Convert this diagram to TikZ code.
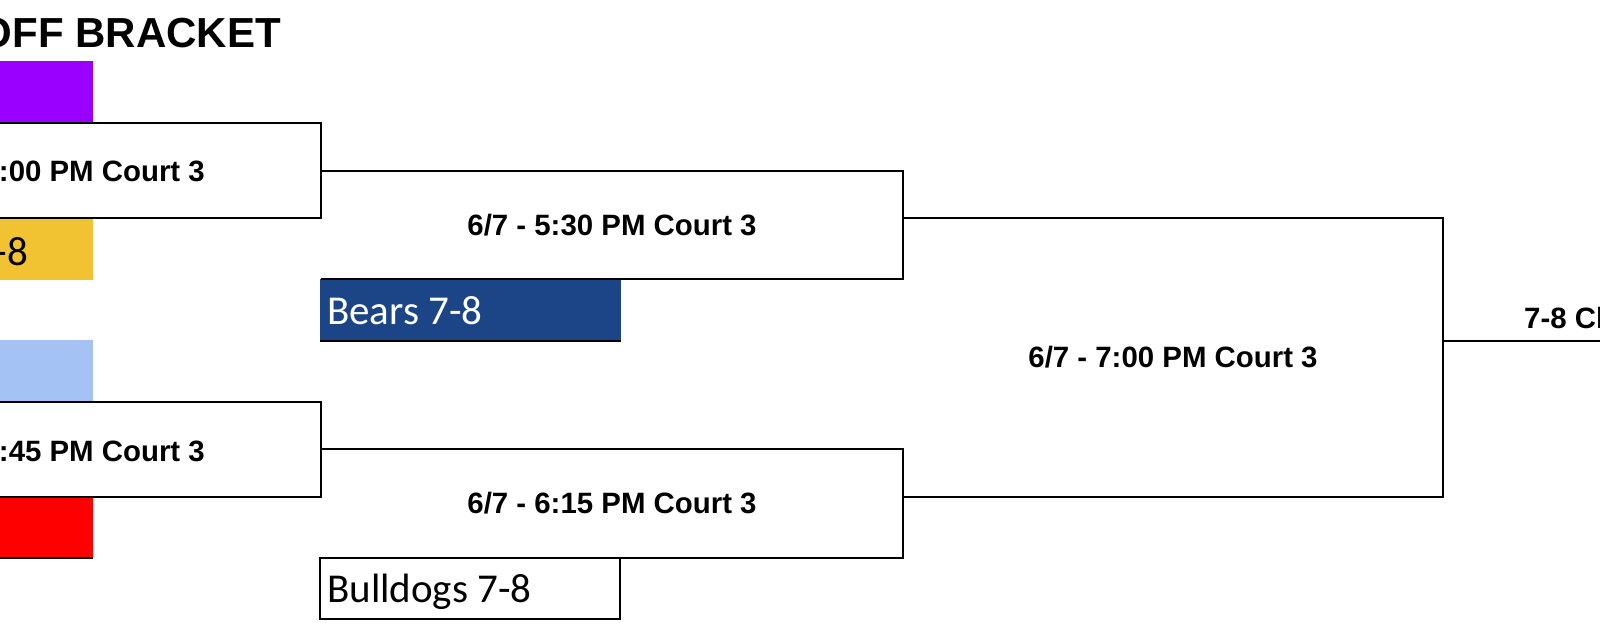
\documentclass[tikz,border=0pt]{standalone}
\usepackage{fontspec}
\setmainfont{Liberation Sans}
\newfontfamily\calib{Carlito}
\definecolor{tpurple}{HTML}{9900FF}
\definecolor{tyellow}{HTML}{F1C232}
\definecolor{tlblue}{HTML}{A4C2F4}
\definecolor{tred}{HTML}{FF0000}
\definecolor{tdblue}{HTML}{1C4587}
\begin{document}
\begin{tikzpicture}[x=1pt,y=-1pt,
  bline/.style={line width=1.4pt, draw=black},
  matchtxt/.style={font=\fontsize{29.4}{34}\selectfont\bfseries, inner sep=0pt},
  teamtxt/.style={font=\calib\fontsize{41}{48}\selectfont, inner sep=0pt},
  titletxt/.style={font=\fontsize{42}{48}\selectfont\bfseries, inner sep=0pt},
  cell/.style={rectangle, inner sep=0pt, outer sep=0pt}]
\useasboundingbox (0,0) rectangle (1600,623);
\clip (0,0) rectangle (1600,623);
\fill[white] (0,0) rectangle (1600,623);

% title
\node[titletxt, anchor=base east] (title) at (281,48) {OFF BRACKET};

% left team cells
\node[cell, fill=tpurple, minimum width=300pt, minimum height=62pt, anchor=north east] (tp) at (93,61) {};
\node[cell, fill=tyellow, minimum width=300pt, minimum height=62pt, anchor=north east] (ty) at (93,218) {};
\node[cell, fill=tlblue, minimum width=300pt, minimum height=62pt, anchor=north east] (tl) at (93,340) {};
\node[cell, fill=tred, minimum width=300pt, minimum height=61pt, anchor=north east] (tr) at (93,497) {};
\draw[bline] (tr.south west) -- (tr.south east);
\node[teamtxt, anchor=base east] (yt) at (28,265) {-8};

% second column team cells
\node[cell, fill=tdblue, minimum width=301pt, minimum height=62pt, anchor=north west] (bears) at (320,279) {};
\draw[bline] (bears.south west) -- (bears.south east);
\node[teamtxt, text=white, anchor=base west] (bearst) at (327,324) {Bears 7-8};
\node[cell, bline, minimum width=300pt, minimum height=61pt, anchor=north west] (bulldogs) at (320,558) {};
\node[teamtxt, anchor=base west] (bulldogst) at (327,602) {Bulldogs 7-8};

% first-round match boxes
\node[cell, bline, minimum width=500pt, minimum height=95pt, anchor=north east] (m1) at (321,123) {};
\node[matchtxt, anchor=base east] (m1t) at (205,181) {:00 PM Court 3};
\node[cell, bline, minimum width=500pt, minimum height=95pt, anchor=north east] (m3) at (321,402) {};
\node[matchtxt, anchor=base east] (m3t) at (205,461) {:45 PM Court 3};

% second-round match boxes
\node[cell, matchtxt, minimum width=582pt, minimum height=108pt, anchor=north west] (m2) at (321,171) {6/7 - 5:30 PM Court 3};
\draw[bline] (m2.north west) -- (m2.north east) -- (m2.south east) -- (m2.south west);
\node[cell, matchtxt, minimum width=582pt, minimum height=109pt, anchor=north west] (m4) at (321,449) {6/7 - 6:15 PM Court 3};
\draw[bline] (m4.north west) -- (m4.north east) -- (m4.south east) -- (m4.south west);

% final match box
\node[cell, matchtxt, minimum width=540pt, minimum height=279pt, anchor=north west] (m5) at (903,218) {6/7 - 7:00 PM Court 3};
\draw[bline] (m5.north west) -- (m5.north east) -- (m5.south east) -- (m5.south west);

% champion line
\coordinate (o1) at (m5.east |- bears.south);
\coordinate (o2) at (1605,341);
\draw[bline] (o1) -- (o2);
\node[matchtxt, anchor=base west] (champ) at (1524,328) {7-8 Ch};
\end{tikzpicture}
\end{document}
